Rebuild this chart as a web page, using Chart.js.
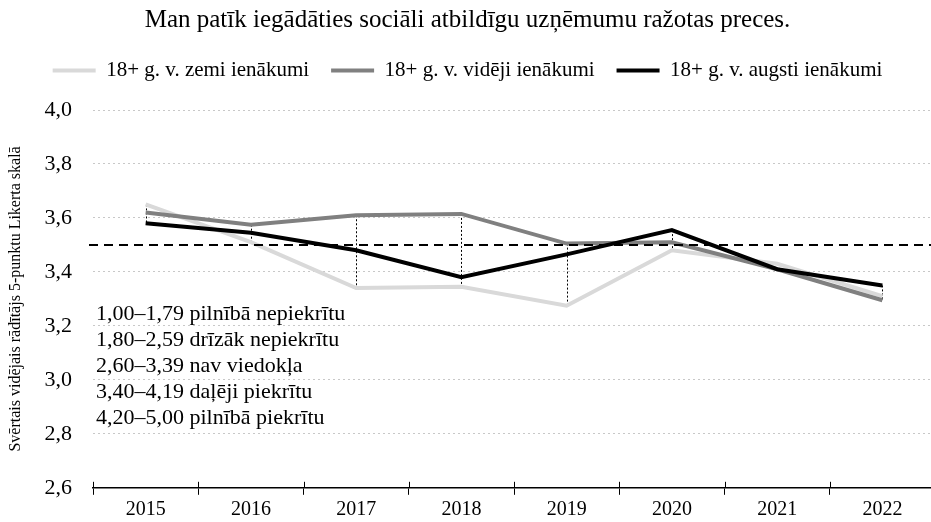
<!DOCTYPE html>
<html>
<head>
<meta charset="utf-8">
<script src="https://cdn.jsdelivr.net/npm/chart.js@4"></script>
<style>
    html, body { margin: 0; padding: 0; background: #fff; }
    #wrap { width: 931px; height: 522px; }
</style>
</head>
<body>
<div id="wrap"><canvas id="chart"></canvas></div>
<script>
// Data
const years = ["2015", "2016", "2017", "2018", "2019", "2020", "2021", "2022"];
const lowIncome = [3.65, 3.51, 3.34, 3.345, 3.275, 3.48, 3.43, 3.31];
const midIncome = [3.62, 3.575, 3.61, 3.615, 3.505, 3.51, 3.41, 3.295];
const highIncome = [3.58, 3.545, 3.48, 3.38, 3.465, 3.555, 3.41, 3.35];
const seriesNames = ["18+ g. v. zemi ienākumi", "18+ g. v. vidēji ienākumi", "18+ g. v. augsti ienākumi"];
const thresholdValue = 3.5;
const scaleNotes = [
    "1,00–1,79 pilnībā nepiekrītu",
    "1,80–2,59 drīzāk nepiekrītu",
    "2,60–3,39 nav viedokļa",
    "3,40–4,19 daļēji piekrītu",
    "4,20–5,00 pilnībā piekrītu"
];

const FONT = "'Liberation Serif', 'Times New Roman', serif";

// high-low dotted lines + dashed threshold + notes
const extrasPlugin = {
    id: "extras",
    afterLayout(chart) {
        // the original plot runs a little past the right edge of the picture
        const x = chart.scales.x;
        x.width = 842;
        x.right = x.left + 842;
        x.configure();
    },
    beforeDatasetsDraw(chart) {
        const { ctx, scales: { x, y } } = chart;
        ctx.save();
        ctx.strokeStyle = "#000";
        ctx.lineWidth = 1;
        ctx.setLineDash([2, 2]);
        years.forEach((yr, i) => {
            const vals = [lowIncome[i], midIncome[i], highIncome[i]];
            const px = Math.round(x.getPixelForValue(i)) + 0.5;
            ctx.beginPath();
            ctx.moveTo(px, y.getPixelForValue(Math.max(...vals)));
            ctx.lineTo(px, y.getPixelForValue(Math.min(...vals)));
            ctx.stroke();
        });
        ctx.restore();
    },
    afterDatasetsDraw(chart) {
        const { ctx, chartArea, scales: { x, y } } = chart;
        ctx.save();
        ctx.strokeStyle = "#000";
        ctx.lineWidth = 2;
        ctx.setLineDash([9, 6]);
        const py = y.getPixelForValue(thresholdValue);
        ctx.beginPath();
        ctx.moveTo(chartArea.left - 4, py);
        ctx.lineTo(chartArea.right, py);
        ctx.stroke();

        // small tick stubs above the x axis line
        ctx.setLineDash([]);
        ctx.lineWidth = 1;
        const step = x.getPixelForValue(1) - x.getPixelForValue(0);
        for (let i = 0; i <= years.length; i++) {
            const px = Math.round(x.getPixelForValue(i) - step / 2) + 0.5;
            ctx.beginPath();
            ctx.moveTo(px, chartArea.bottom - 6);
            ctx.lineTo(px, chartArea.bottom);
            ctx.stroke();
        }

        ctx.fillStyle = "#000";
        ctx.font = "22px " + FONT;
        ctx.textBaseline = "middle";
        ctx.textAlign = "left";
        scaleNotes.forEach((t, i) => {
            ctx.fillText(t, chartArea.left + 3, 314 + i * 26);
        });
        ctx.restore();
    }
};

new Chart(document.getElementById("chart"), {
    type: "line",
    data: {
        labels: years,
        datasets: [
            { label: seriesNames[0], data: lowIncome, borderColor: "#d9d9d9", backgroundColor: "#d9d9d9", borderWidth: 4, order: 2 },
            { label: seriesNames[1], data: midIncome, borderColor: "#808080", backgroundColor: "#808080", borderWidth: 4, order: 1 },
            { label: seriesNames[2], data: highIncome, borderColor: "#000000", backgroundColor: "#000000", borderWidth: 4, order: 0 }
        ]
    },
    options: {
        responsive: true,
        maintainAspectRatio: false,
        animation: false,
        elements: { point: { radius: 0, hoverRadius: 0 }, line: { tension: 0 } },
        layout: { padding: { left: 4, right: 0, top: 0, bottom: 0 } },
        plugins: {
            title: {
                display: true,
                text: "Man patīk iegādāties sociāli atbildīgu uzņēmumu ražotas preces.",
                color: "#000",
                font: { family: FONT, size: 25, weight: "normal", lineHeight: 1.0 },
                padding: { top: 8, bottom: 5 }
            },
            legend: {
                position: "top",
                labels: {
                    usePointStyle: true,
                    pointStyle: "line",
                    pointStyleWidth: 43,
                    boxWidth: 43,
                    color: "#000",
                    font: { family: FONT, size: 21 },
                    padding: 22,
                    sort: (a, b) => a.datasetIndex - b.datasetIndex
                }
            },
            tooltip: { enabled: false }
        },
        scales: {
            x: {
                offset: true,
                afterFit: s => { s.height = 33; },
                grid: {
                    offset: true,
                    drawOnChartArea: false,
                    drawTicks: true,
                    tickLength: 7,
                    color: "#000"
                },
                border: { display: true, color: "#000", width: 1.5 },
                ticks: { color: "#000", font: { family: FONT, size: 20 }, padding: 3 }
            },
            // empty top axis, only keeps a gap between legend and plot
            gap: {
                type: "linear",
                position: "top",
                display: true,
                afterFit: s => { s.height = 19; },
                ticks: { display: false },
                grid: { display: false },
                border: { display: false }
            },
            y: {
                min: 2.6,
                max: 4.0,
                afterFit: s => { s.width = 89; },
                ticks: {
                    stepSize: 0.2,
                    color: "#000",
                    font: { family: FONT, size: 22 },
                    padding: 21,
                    callback: v => v.toFixed(1).replace(".", ",")
                },
                grid: { color: "#c8c8c8", lineWidth: 1, drawTicks: false },
                border: { display: false, dash: [2, 3] },
                title: {
                    display: true,
                    text: "Svērtais vidējais rādītājs 5-punktu Likerta skalā",
                    color: "#000",
                    font: { family: FONT, size: 16 },
                    padding: { top: 2, bottom: 0 }
                }
            }
        }
    },
    plugins: [extrasPlugin]
});
</script>
</body>
</html>
